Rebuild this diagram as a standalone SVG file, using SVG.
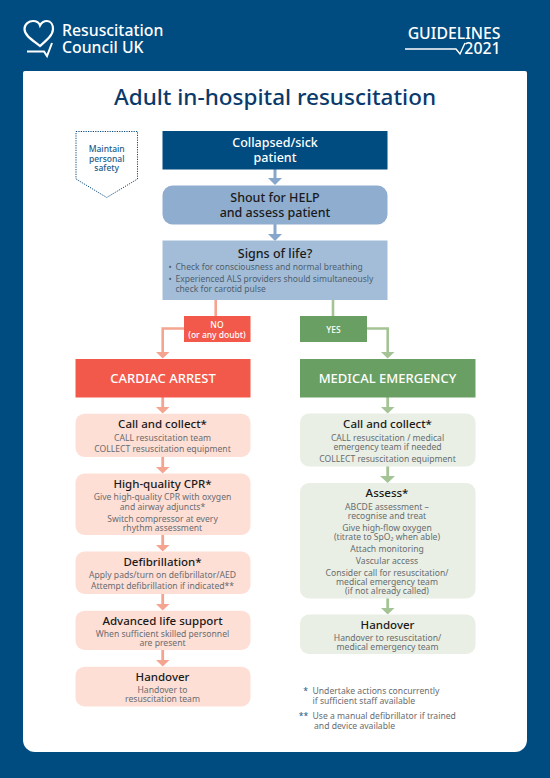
<svg xmlns="http://www.w3.org/2000/svg" width="550" height="778" viewBox="0 0 550 778">
<style>
text{font-family:"Noto Sans","Open Sans","Liberation Sans",sans-serif;text-anchor:middle}
.h{font-size:11.5px;font-weight:500;fill:#1a1a1a}
.b{font-size:8.6px;fill:#686c70}
.m{font-size:12.5px;font-weight:500;fill:#1a1a1a}
.w{fill:#fff;font-weight:500}
.s{text-anchor:start}
.e{text-anchor:end}
.bl{fill:#86a7cb}.r{fill:#f5a58f}.g{fill:#a5c495}
.ls{fill:none;stroke-width:2.6}
</style>
<rect width="550" height="778" fill="#004b80"/>
<path d="M23 73a2 2 0 0 1 2-2H525a2 2 0 0 1 2 2V740a12 12 0 0 1-12 12H35a12 12 0 0 1-12-12Z" fill="#fff"/>
<g id="logo">
<path d="M40 46C34 41 24.500 36 24.500 29C24.500 24 29 21 33 21C36 21 39 22.500 40 25.500C41.500 22.500 44 21 47 21C51 21 53 25 53 29C53 35 47 40 40 46Z" fill="none" stroke="#fff" stroke-width="2.200"/>
<path d="M27 51.500H44L47 56L52 43" fill="none" stroke="#fff" stroke-width="2"/>
<text class="w s" x="62" y="35.500" font-size="15.800" font-weight="600">Resuscitation</text>
<text class="w s" x="62" y="52.500" font-size="15.800" font-weight="600">Council UK</text>
</g>
<g id="guidelines">
<text class="w e" x="500.500" y="39" font-size="15.800">GUIDELINES</text>
<text class="w e" x="500.500" y="54" font-size="15.800">2021</text>
<path d="M405 49H456L460 54L465 43" fill="none" stroke="#fff" stroke-width="1.400"/>
</g>
<text id="title" x="275" y="105" font-size="22.500" font-weight="500" fill="#0a3a6b">Adult in-hospital resuscitation</text>
<g id="connectors">
<g class="bl">
<rect x="273.500" y="169" width="3" height="10"/><path d="M268 178H282L275 185Z"/>
<rect x="273.500" y="224" width="3" height="10"/><path d="M268 234H282L275 241Z"/>
</g>
<path class="ls" d="M215.700 300V316" stroke="#f5a58f"/>
<path class="ls" d="M184 328.500H162.700V352" stroke="#f5a58f"/>
<path class="r" d="M156 352H169.500L162.700 358.500Z"/>
<path class="ls" d="M333 300V316" stroke="#a5c495"/>
<path class="ls" d="M367 328.500H387.700V352" stroke="#a5c495"/>
<path class="g" d="M381 352H394.500L387.700 358.500Z"/>
<g class="r">
<rect x="161.300" y="397" width="2.800" height="11"/><path d="M156 407H169.500L162.700 413.500Z"/>
<rect x="161.300" y="457" width="2.800" height="11"/><path d="M156 467H169.500L162.700 473.500Z"/>
<rect x="161.300" y="535" width="2.800" height="11"/><path d="M156 545H169.500L162.700 551.500Z"/>
<rect x="161.300" y="594" width="2.800" height="11"/><path d="M156 604H169.500L162.700 610.500Z"/>
<rect x="161.300" y="650" width="2.800" height="11"/><path d="M156 660H169.500L162.700 666.500Z"/>
</g>
<g class="g">
<rect x="386.300" y="397" width="2.800" height="11"/><path d="M381 407H394.500L387.700 413.500Z"/>
<rect x="386.300" y="466" width="2.800" height="11"/><path d="M380 476H395L387.700 483Z"/>
<rect x="386.300" y="598" width="2.800" height="11"/><path d="M381 608H394.500L387.700 614.500Z"/>
</g>
</g>
<g id="safety">
<path d="M76 131.500H137.500V179L106.700 197.500L76 179Z" fill="none" stroke="#0a4a7c" stroke-width="1" stroke-dasharray="1.200 1.200"/>
<g fill="#1e5a8a" font-size="8.500" font-weight="500"><text x="106.700" y="152">Maintain</text><text x="106.700" y="161.700">personal</text><text x="106.700" y="171">safety</text></g>
</g>
<g id="collapsed"><rect x="162.500" y="131" width="225" height="38.500" fill="#004b80"/>
<text class="w" x="275" y="147" font-size="12.500">Collapsed/sick</text><text class="w" x="275" y="162" font-size="12.500">patient</text></g>
<g id="shout"><rect x="162.500" y="185.500" width="225" height="39" rx="10" fill="#8fadce"/>
<text class="m" x="275" y="202">Shout for HELP</text><text class="m" x="275" y="217">and assess patient</text></g>
<g id="signs"><rect x="162.500" y="240.500" width="225" height="59.500" fill="#a3bdd8"/>
<text class="m" x="275" y="258">Signs of life?</text>
<text class="s" x="168.500" y="270" font-size="8.600" fill="#4f5f6e">•</text><text class="s" x="175.500" y="270" font-size="8.500" fill="#4f5f6e">Check for consciousness and normal breathing</text>
<text class="s" x="168.500" y="282" font-size="8.600" fill="#4f5f6e">•</text><text class="s" x="175.500" y="282" font-size="8.500" fill="#4f5f6e">Experienced ALS providers should simultaneously</text>
<text class="s" x="175.500" y="291.500" font-size="8.500" fill="#4f5f6e">check for carotid pulse</text></g>
<g id="no"><rect x="184" y="316" width="66.500" height="26" fill="#f3594a"/>
<text class="w" x="217" y="328" font-size="8.500">NO</text><text class="w" x="217" y="337.500" font-size="8.500">(or any doubt)</text></g>
<g id="yes"><rect x="300" y="316" width="67" height="26" fill="#699f63"/>
<text class="w" x="333.500" y="332.500" font-size="8.500">YES</text></g>
<g id="cardiac"><rect x="75.500" y="359" width="175" height="38.500" fill="#f3594a"/>
<text class="w" x="163" y="383" font-size="13">CARDIAC ARREST</text></g>
<g id="medical"><rect x="300" y="359" width="175.500" height="38.500" fill="#699f63"/>
<text class="w" x="387.500" y="383" font-size="13">MEDICAL EMERGENCY</text></g>
<g id="l1"><rect x="75.500" y="413.700" width="175" height="43.300" rx="9" fill="#fedfd6"/>
<text class="h" x="162.500" y="428">Call and collect*</text><text class="b" x="162.500" y="440.500">CALL resuscitation team</text><text class="b" x="162.500" y="452">COLLECT resuscitation equipment</text></g>
<g id="l2"><rect x="75.500" y="473.500" width="175" height="61.500" rx="9" fill="#fedfd6"/>
<text class="h" x="162.500" y="487.500">High-quality CPR*</text><text class="b" x="162.500" y="500">Give high-quality CPR with oxygen</text><text class="b" x="162.500" y="509.500">and airway adjuncts*</text><text class="b" x="162.500" y="521.500">Switch compressor at every</text><text class="b" x="162.500" y="530.500">rhythm assessment</text></g>
<g id="l3"><rect x="75.500" y="551.500" width="175" height="42.500" rx="9" fill="#fedfd6"/>
<text class="h" x="162.500" y="565.500">Defibrillation*</text><text class="b" x="162.500" y="577.500">Apply pads/turn on defibrillator/AED</text><text class="b" x="162.500" y="589">Attempt defibrillation if indicated**</text></g>
<g id="l4"><rect x="75.500" y="610.700" width="175" height="39.300" rx="9" fill="#fedfd6"/>
<text class="h" x="162.500" y="625">Advanced life support</text><text class="b" x="162.500" y="636.500">When sufficient skilled personnel</text><text class="b" x="162.500" y="646">are present</text></g>
<g id="l5"><rect x="75.500" y="666.700" width="175" height="39.800" rx="9" fill="#fedfd6"/>
<text class="h" x="162.500" y="681">Handover</text><text class="b" x="162.500" y="692.500">Handover to</text><text class="b" x="162.500" y="702">resuscitation team</text></g>
<g id="r1"><rect x="300" y="413.500" width="175.500" height="53" rx="9" fill="#e9efe4"/>
<text class="h" x="387.500" y="428">Call and collect*</text><text class="b" x="387.500" y="440.500">CALL resuscitation / medical</text><text class="b" x="387.500" y="449.500">emergency team if needed</text><text class="b" x="387.500" y="461.500">COLLECT resuscitation equipment</text></g>
<g id="r2"><rect x="300" y="483" width="175.500" height="115.500" rx="9" fill="#e9efe4"/>
<text class="h" x="387" y="497">Assess*</text><text class="b" x="387" y="509.500">ABCDE assessment –</text><text class="b" x="387" y="518.500">recognise and treat</text><text class="b" x="387" y="530.500">Give high-flow oxygen</text><text class="b" x="387" y="539.500">(titrate to SpO₂ when able)</text><text class="b" x="387" y="551.500">Attach monitoring</text><text class="b" x="387" y="563.500">Vascular access</text><text class="b" x="387" y="575.500">Consider call for resuscitation/</text><text class="b" x="387" y="584.500">medical emergency team</text><text class="b" x="387" y="594">(if not already called)</text></g>
<g id="r3"><rect x="300" y="614.500" width="175.500" height="39.500" rx="9" fill="#e9efe4"/>
<text class="h" x="387.500" y="629">Handover</text><text class="b" x="387.500" y="640.500">Handover to resuscitation/</text><text class="b" x="387.500" y="650">medical emergency team</text></g>
<g id="notes">
<text class="b" x="305.500" y="693.500" style="fill:#1e5a8a">*</text><text class="b s" x="312.500" y="693.500">Undertake actions concurrently</text><text class="b s" x="312.500" y="703.500">if sufficient staff available</text>
<text class="b" x="303.500" y="719" style="fill:#1e5a8a">**</text><text class="b s" x="312.500" y="719">Use a manual defibrillator if trained</text><text class="b s" x="314" y="729">and device available</text>
</g>
</svg>
